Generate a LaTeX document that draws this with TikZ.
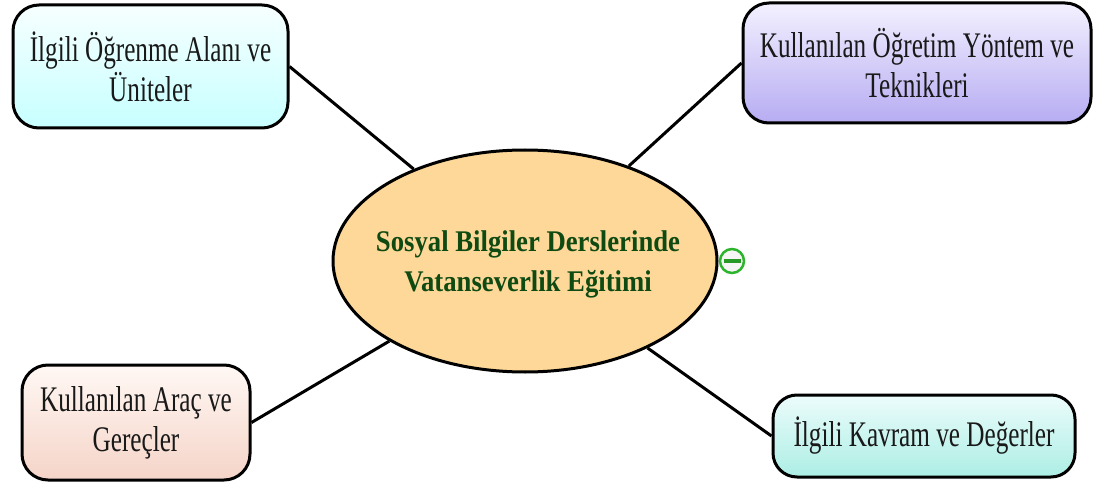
\documentclass[tikz,border=0pt]{standalone}
\usepackage{fontspec}
\usetikzlibrary{shapes.geometric}
\newfontfamily\boxfont[FakeStretch=0.70]{Liberation Serif}
\newfontfamily\titlefont[FakeStretch=0.89]{Liberation Serif}
\definecolor{ellfill}{HTML}{FDD898}
\definecolor{titlegreen}{HTML}{0F4A12}
\definecolor{mingreen}{HTML}{2DB42D}
\tikzset{
  topic/.style={draw=black, line width=3pt, rounded corners=26pt, inner sep=0pt,
    align=center, font=\boxfont\fontsize{36}{40}\selectfont, text=black!90},
  link/.style={draw=black, line width=3pt},
}
\begin{document}
\begin{tikzpicture}[x=1pt,y=-1pt]
\useasboundingbox (0,0) rectangle (1094,486);
\node[ellipse, draw=black, line width=3pt, fill=ellfill, minimum width=384pt, minimum height=222pt, inner sep=0pt] (ell) at (525,261) {};
\node[align=center, inner sep=0pt, text=titlegreen, font=\titlefont\bfseries\fontsize{30}{40}\selectfont] (title) at (528,264) {Sosyal Bilgiler Derslerinde\\Vatanseverlik Eğitimi};

\node[topic, top color=white!60!cyan!8, bottom color=cyan!22!white, minimum width=275pt, minimum height=123pt] (b1) at (150.5,66.5) {İlgili Öğrenme Alanı ve\\Üniteler};
\node[topic, top color={rgb,255:red,243;green,241;blue,255}, bottom color={rgb,255:red,182;green,172;blue,242}, minimum width=348pt, minimum height=120pt] (b2) at (917,63) {Kullanılan Öğretim Yöntem ve\\Teknikleri};
\node[topic, top color={rgb,255:red,255;green,248;blue,244}, bottom color={rgb,255:red,245;green,212;blue,200}, minimum width=228pt, minimum height=115pt] (b3) at (136,422.5) {Kullanılan Araç ve\\Gereçler};
\node[topic, top color={rgb,255:red,236;green,252;blue,252}, bottom color={rgb,255:red,172;green,238;blue,228}, minimum width=302pt, minimum height=82pt, rounded corners=24pt] (b4) at (924,436) {İlgili Kavram ve Değerler};

\draw[link] (b1.east) -- (ell);
\draw[link] (b2.west) -- (ell);
\draw[link] (b3.east) -- (ell);
\draw[link] (b4.west) -- (ell);

\node[circle, draw=mingreen, line width=2.5pt, fill=black!4, minimum size=24pt, inner sep=0pt] (minus) at (732,261) {};
\draw[mingreen!85!black, line width=4pt] ([xshift=-8.5pt]minus.center) -- ([xshift=8.5pt]minus.center);
\end{tikzpicture}
\end{document}
